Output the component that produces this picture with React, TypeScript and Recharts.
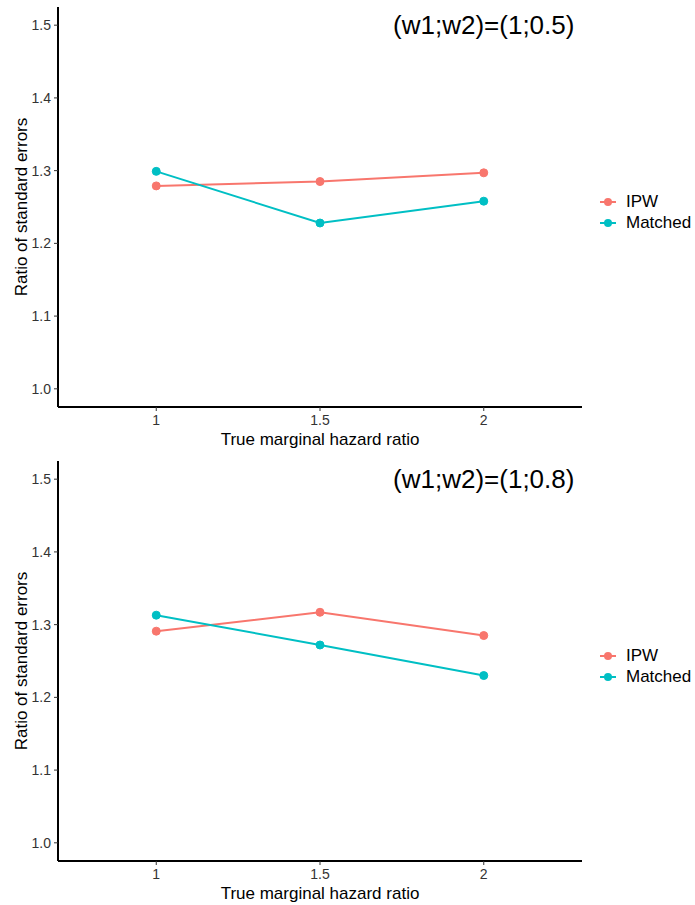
import React from "react";
import {
  LineChart,
  Line,
  XAxis,
  YAxis,
  ReferenceDot,
} from "recharts";

// true marginal hazard ratios, shown as evenly spaced categories
const hazardRatios = ["1", "1.5", "2"];

// ratio of standard errors for (w1;w2)=(1;0.5)
const ipwLow = [1.279, 1.285, 1.297];
const matchedLow = [1.299, 1.228, 1.258];

// ratio of standard errors for (w1;w2)=(1;0.8)
const ipwHigh = [1.291, 1.317, 1.285];
const matchedHigh = [1.313, 1.272, 1.23];

const panelTitles = ["(w1;w2)=(1;0.5)", "(w1;w2)=(1;0.8)"];
const yTicks = [1.0, 1.1, 1.2, 1.3, 1.4, 1.5];
const seriesNames = ["IPW", "Matched"];

const RED = "#F8766D";
const TEAL = "#00BFC4";
const FONT = "'Liberation Sans', Arial, sans-serif";

function buildRows(ipw: number[], matched: number[]) {
  return hazardRatios.map((hr, i) => ({
    pos: i + 1,
    hr,
    IPW: ipw[i],
    Matched: matched[i],
  }));
}

function KeyLegend({ top }: { top: number }) {
  const colors = [RED, TEAL];
  return (
    <div style={{ position: "absolute", left: 598, top, fontFamily: FONT, fontSize: 17, color: "#000" }}>
      {seriesNames.map((name, i) => (
        <div key={name} style={{ display: "flex", alignItems: "center", height: 21 }}>
          <svg width={20} height={20} style={{ marginRight: 8 }}>
            <line x1={2} y1={10} x2={18} y2={10} stroke={colors[i]} strokeWidth={2} />
            <circle cx={10} cy={10} r={4} fill={colors[i]} />
          </svg>
          <span>{name}</span>
        </div>
      ))}
    </div>
  );
}

function Panel({ ipw, matched, title, top }: { ipw: number[]; matched: number[]; title: string; top: number }) {
  const rows = buildRows(ipw, matched);
  return (
    <div style={{ position: "absolute", left: 0, top, width: 695, height: 452 }}>
      <LineChart
        width={695}
        height={452}
        data={rows}
        margin={{ top: 7, right: 113, bottom: 5, left: 0 }}
        style={{ fontFamily: FONT }}
      >
        <XAxis
          dataKey="pos"
          type="number"
          domain={[0.4, 3.6]}
          ticks={[1, 2, 3]}
          tickFormatter={(v: number) => hazardRatios[v - 1]}
          allowDataOverflow
          height={40}
          axisLine={{ stroke: "#000", strokeWidth: 2 }}
          tickLine={{ stroke: "#333", strokeWidth: 1 }}
          tickSize={4}
          tickMargin={4}
          tick={{ fill: "#333", fontSize: 14 }}
          label={{ value: "True marginal hazard ratio", position: "insideBottom", offset: 2, fill: "#000", fontSize: 17 }}
        />
        <YAxis
          type="number"
          domain={[0.975, 1.525]}
          ticks={yTicks}
          tickFormatter={(v: number) => v.toFixed(1)}
          allowDataOverflow
          width={58}
          axisLine={{ stroke: "#000", strokeWidth: 2 }}
          tickLine={{ stroke: "#333", strokeWidth: 1 }}
          tickSize={4}
          tickMargin={3}
          tick={{ fill: "#333", fontSize: 14 }}
          label={{
            value: "Ratio of standard errors",
            angle: -90,
            position: "insideLeft",
            offset: 21,
            textAnchor: "middle",
            fill: "#000",
            fontSize: 17,
          }}
        />
        <ReferenceDot
          x={3}
          y={1.5}
          r={0}
          fill="none"
          stroke="none"
          ifOverflow="visible"
          label={{ value: title, position: "center", fill: "#000", fontSize: 26 }}
        />
        <Line
          dataKey="IPW"
          stroke={RED}
          strokeWidth={2}
          dot={{ r: 4, fill: RED, stroke: RED, strokeWidth: 1 }}
          isAnimationActive={false}
        />
        <Line
          dataKey="Matched"
          stroke={TEAL}
          strokeWidth={2}
          dot={{ r: 4, fill: TEAL, stroke: TEAL, strokeWidth: 1 }}
          isAnimationActive={false}
        />
      </LineChart>
      <KeyLegend top={191} />
    </div>
  );
}

export default function App() {
  return (
    <div style={{ position: "absolute", left: 0, top: 0, width: 695, height: 905, background: "#fff" }}>
      <Panel ipw={ipwLow} matched={matchedLow} title={panelTitles[0]} top={0} />
      <Panel ipw={ipwHigh} matched={matchedHigh} title={panelTitles[1]} top={454} />
    </div>
  );
}
